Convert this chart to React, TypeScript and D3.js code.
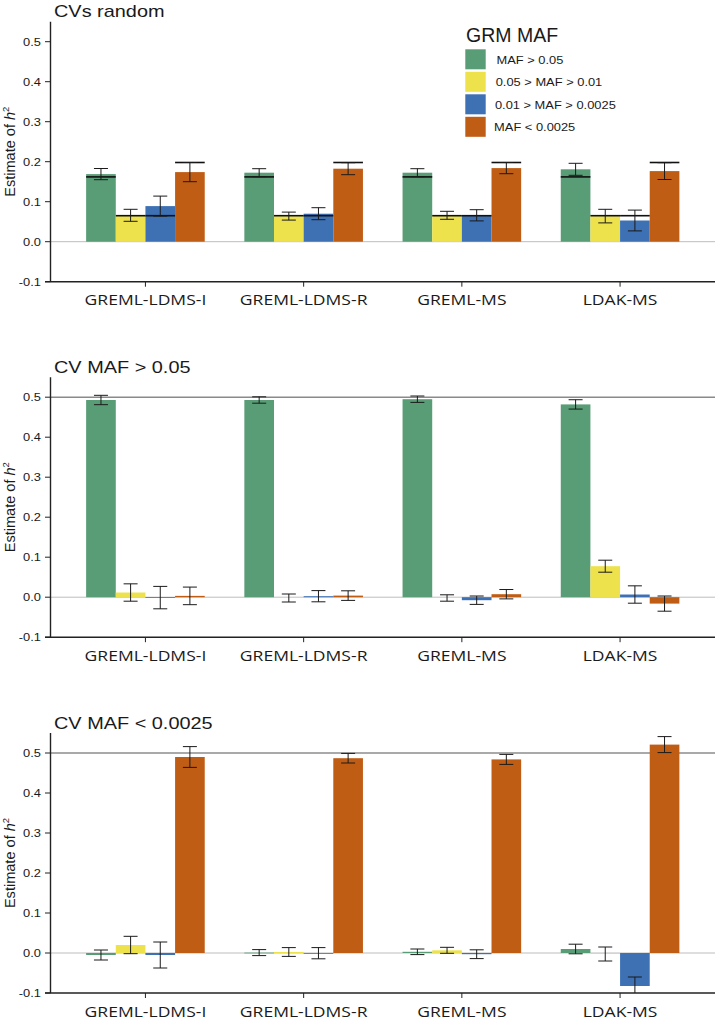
import React from "react";
import * as d3 from "d3";

const categories = ["GREML-LDMS-I", "GREML-LDMS-R", "GREML-MS", "LDAK-MS"];
const series = ["MAF > 0.05", "0.05 > MAF > 0.01", "0.01 > MAF > 0.0025", "MAF < 0.0025"];
const colors = ["#589d76", "#ede24c", "#3d71b4", "#c05d15"];
const yTicks = [-0.1, 0, 0.1, 0.2, 0.3, 0.4, 0.5];

// Panel 1: CVs random (rows = categories, cols = series)
const randomValues = [
  [0.169, 0.066, 0.089, 0.174],
  [0.1725, 0.064, 0.07, 0.1825],
  [0.1725, 0.066, 0.066, 0.184],
  [0.181, 0.064, 0.053, 0.1765],
];
const randomErrors = [
  [0.014, 0.015, 0.025, 0.024],
  [0.01, 0.01, 0.015, 0.015],
  [0.01, 0.01, 0.014, 0.014],
  [0.015, 0.017, 0.026, 0.021],
];
const randomTrue = [0.162, 0.065, 0.065, 0.198];

// Panel 2: CV MAF > 0.05
const commonValues = [
  [0.493, 0.0117, -0.001, 0.0033],
  [0.493, -0.002, 0.0025, 0.004],
  [0.495, -0.002, -0.0075, 0.0075],
  [0.482, 0.0775, 0.0067, -0.016],
];
const commonErrors = [
  [0.0117, 0.0217, 0.028, 0.022],
  [0.008, 0.01, 0.014, 0.012],
  [0.008, 0.008, 0.0105, 0.0117],
  [0.0117, 0.015, 0.0217, 0.019],
];

// Panel 3: CV MAF < 0.0025
const rareValues = [
  [-0.005, 0.02, -0.005, 0.49],
  [0.001, 0.0025, -0.0005, 0.487],
  [0.003, 0.0067, -0.003, 0.484],
  [0.01, -0.0025, -0.0825, 0.521],
];
const rareErrors = [
  [0.0125, 0.0217, 0.0325, 0.026],
  [0.0075, 0.011, 0.014, 0.012],
  [0.007, 0.0075, 0.011, 0.0125],
  [0.012, 0.0175, 0.0225, 0.02],
];
const totalH2 = 0.5;

const SX = 1.17;

function SText({ x, y, anchor = "start", size, family = "'Liberation Sans', Arial, sans-serif", sx = SX, children, fill = "#1a1a1a" }: any) {
  return (
    <text
      transform={`translate(${x},${y}) scale(${sx},1)`}
      textAnchor={anchor}
      fontSize={size}
      fontFamily={family}
      fill={fill}
    >
      {children}
    </text>
  );
}

const xLeft = 50.5;
const xRight = 715;
const x = d3.scalePoint<string>().domain(categories).range([xLeft, xRight]).padding(0.6);
const inner = d3.scaleBand<string>().domain(series).range([-59.3, 59.3]).padding(0);

function Panel({ bottom, title, values, errors, trueSeg, refLine, refColor, refWidth }: any) {
  const y = d3.scaleLinear().domain([-0.1, 0.55]).range([bottom, bottom - 260]);
  const bw = inner.bandwidth();
  const capW = 14;
  return (
    <g>
      <SText x={54} y={y(0.55) - 4.5} size={17}>{title}</SText>
      {/* zero line */}
      <line x1={xLeft} x2={xRight} y1={y(0)} y2={y(0)} stroke="#bdbdbd" strokeWidth={1} />
      {refLine != null && (
        <line x1={xLeft} x2={xRight} y1={y(refLine)} y2={y(refLine)} stroke={refColor} strokeWidth={refWidth} />
      )}
      {categories.map((c, ci) => (
        <g key={c}>
          {series.map((s, si) => {
            const v = values[ci][si];
            const x0 = (x(c) as number) + (inner(s) as number);
            return (
              <rect
                key={s}
                x={x0}
                width={bw}
                y={Math.min(y(v), y(0))}
                height={Math.max(0.8, Math.abs(y(v) - y(0)))}
                fill={colors[si]}
              />
            );
          })}
          {trueSeg &&
            series.map((s, si) => {
              const x0 = (x(c) as number) + (inner(s) as number);
              return (
                <line key={"t" + s} x1={x0} x2={x0 + bw} y1={y(trueSeg[si])} y2={y(trueSeg[si])} stroke="#111" strokeWidth={1.6} />
              );
            })}
          {series.map((s, si) => {
            const v = values[ci][si];
            const e = errors[ci][si];
            const cx = (x(c) as number) + (inner(s) as number) + bw / 2;
            const hi = v + e;
            const lo = Math.max(-0.1, v - e);
            return (
              <g key={"e" + s} stroke="#1a1a1a" strokeWidth={1}>
                <line x1={cx} x2={cx} y1={y(hi)} y2={y(lo)} />
                <line x1={cx - capW / 2} x2={cx + capW / 2} y1={y(hi)} y2={y(hi)} />
                {v - e >= -0.1 && <line x1={cx - capW / 2} x2={cx + capW / 2} y1={y(lo)} y2={y(lo)} />}
              </g>
            );
          })}
        </g>
      ))}
      {/* axes */}
      <line x1={xLeft} x2={xLeft} y1={y(0.55)} y2={bottom} stroke="#222" strokeWidth={1.4} />
      <line x1={45} x2={xRight} y1={bottom} y2={bottom} stroke="#222" strokeWidth={1.4} />
      {yTicks.map((t) => (
        <g key={t}>
          <line x1={45} x2={xLeft} y1={y(t)} y2={y(t)} stroke="#222" strokeWidth={1} />
          <SText x={41} y={y(t) + 3.9} anchor="end" size={11}>{d3.format(".1f")(t).replace("−", "-")}</SText>
        </g>
      ))}
      {categories.map((c) => (
        <g key={"x" + c}>
          <line x1={x(c)} x2={x(c)} y1={bottom} y2={bottom + 5} stroke="#222" strokeWidth={1} />
          <SText x={x(c)} y={bottom + 23.5} anchor="middle" size={15} family="'Open Sans', sans-serif">{c}</SText>
        </g>
      ))}
      <text
        transform={`translate(15,${(y(0.55) + bottom) / 2}) rotate(-90) scale(1.12,1.12)`}
        textAnchor="middle"
        fontSize={13}
        fontFamily="'Liberation Sans', Arial, sans-serif"
        fill="#1a1a1a"
      >
        Estimate of <tspan fontStyle="italic">h</tspan>
        <tspan fontSize={8.5} dy={-5}>2</tspan>
      </text>
    </g>
  );
}

function Legend() {
  const lx = 465.3;
  const ly = 49.3;
  const step = 22.5;
  return (
    <g>
      <text x={466} y={42.3} fontSize={19.5} fontFamily="'Liberation Sans', Arial, sans-serif" fill="#1a1a1a">GRM MAF</text>
      {series.map((s, i) => (
        <g key={s}>
          <rect x={lx} y={ly + i * step} width={20.4} height={20} fill={colors[i]} />
          <SText x={496.5 - i * 0.8} y={ly + i * step + 14.2} size={11}>{s}</SText>
        </g>
      ))}
    </g>
  );
}

export default function App() {
  return (
    <svg
      width={720}
      height={1020}
      viewBox="0 0 720 1020"
      style={{ position: "absolute", left: 0, top: 0, background: "#fff" }}
    >
      <rect width={720} height={1020} fill="#fff" />
      <Panel bottom={281.7} title="CVs random" values={randomValues} errors={randomErrors} trueSeg={randomTrue} />
      <Panel bottom={637.2} title="CV MAF > 0.05" values={commonValues} errors={commonErrors} refLine={totalH2} refColor="#8a8a8a" refWidth={1.6} />
      <Panel bottom={993} title="CV MAF < 0.0025" values={rareValues} errors={rareErrors} refLine={totalH2} refColor="#555" refWidth={1.1} />
      <Legend />
    </svg>
  );
}
